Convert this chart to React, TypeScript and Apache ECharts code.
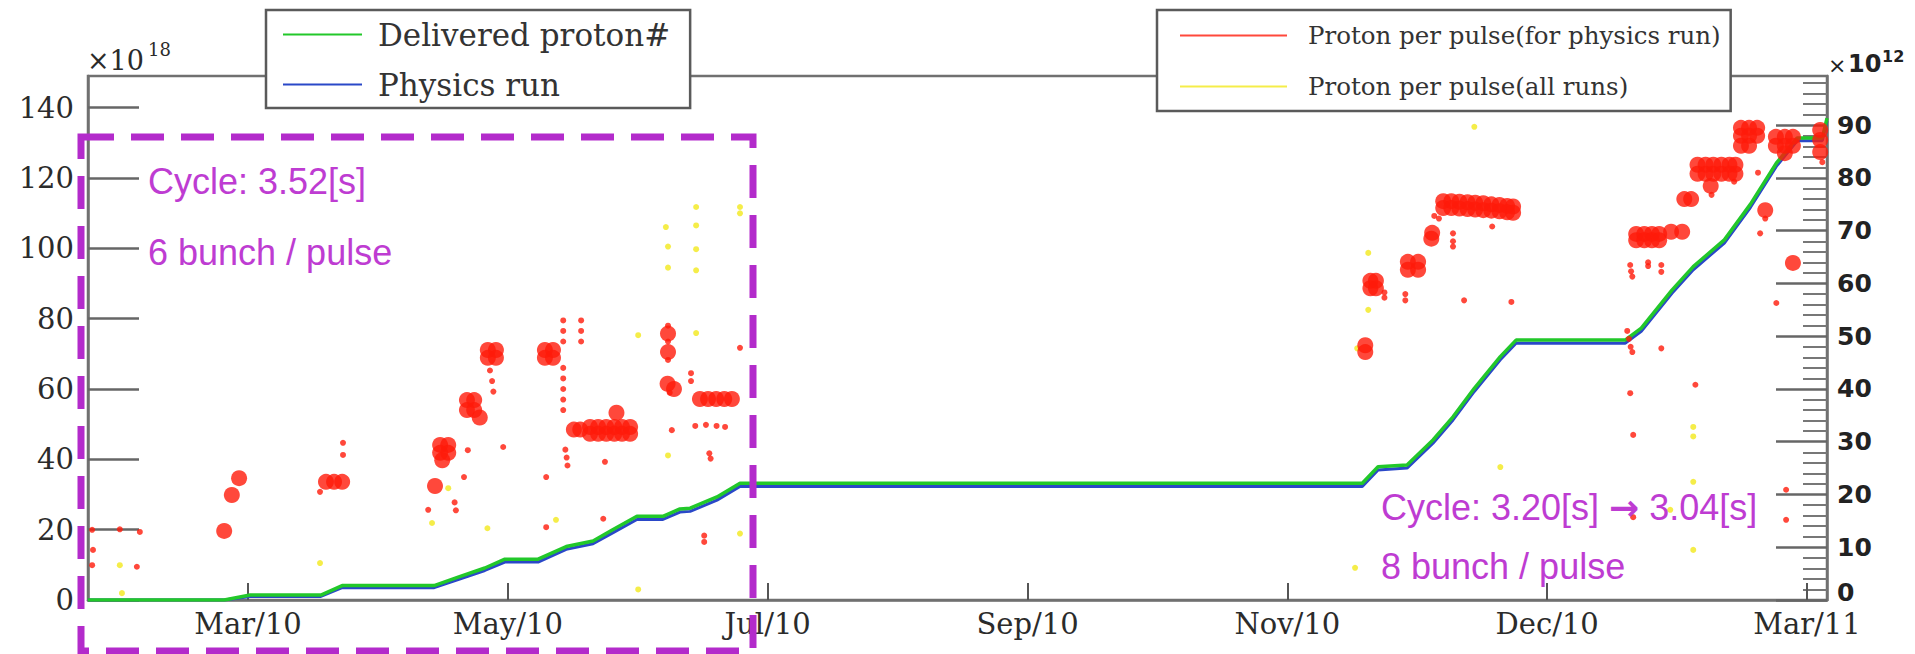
import React, { useEffect, useRef } from "react";
import * as echarts from "echarts";

// ---- axis ticks / labels ----
const xTickDays = [59, 120, 181, 242, 303, 364, 425];
const xTickLabels = ["Mar/10", "May/10", "Jul/10", "Sep/10", "Nov/10", "Dec/10", "Mar/11"];
const leftTicks = [0, 20, 40, 60, 80, 100, 120, 140];
const rightMajorTicks = [0, 10, 20, 30, 40, 50, 60, 70, 80, 90];
const rightMinorTicks = [
  2, 4, 6, 8, 12, 14, 16, 18, 22, 24, 26, 28, 32, 34, 36, 38, 42, 44, 46, 48,
  52, 54, 56, 58, 62, 64, 66, 68, 72, 74, 76, 78, 82, 84, 86, 88, 92, 94, 96, 98,
];

// ---- cumulative delivered protons (x10^18), x = day of 2010 ----
const potDays = [
  21.4, 53.4, 59.5, 76.1, 81.1, 102.7, 108.5, 114.6, 119.3, 127.1, 133.7, 140.0,
  144.5, 150.3, 156.4, 160.4, 162.8, 169.1, 174.5, 320.6, 324.3, 331.1, 337.2,
  341.9, 346.9, 353.0, 356.7, 382.3, 386.1, 393.3, 398.3, 405.6, 411.7, 417.8,
  422.7, 428.6, 429.7,
];
const deliveredPOT = [
  0, 0, 1.4, 1.4, 4.1, 4.1, 6.6, 9.1, 11.6, 11.6, 15.2, 16.8, 19.9, 23.8, 23.8,
  25.9, 26.1, 29.3, 33.2, 33.2, 37.9, 38.4, 45.5, 52.1, 60.2, 69.2, 73.9, 73.9,
  77.3, 88.1, 94.8, 102.4, 112.5, 124.2, 131.4, 131.4, 137.0,
];
const physicsPOT = [
  0, 0, 1.0, 1.0, 3.5, 3.5, 5.9, 8.4, 10.8, 10.8, 14.4, 16.0, 19.0, 22.9, 22.9,
  25.0, 25.2, 28.4, 32.3, 32.3, 37.0, 37.5, 44.6, 51.2, 59.3, 68.3, 73.0, 73.0,
  76.4, 87.2, 93.9, 101.5, 111.6, 123.3, 130.6, 130.6, 136.2,
];

// ---- protons per pulse (x10^12) ----
const ppDensePhysics = [
  [53.4, 13.1], [55.2, 19.9], [56.9, 23.1], [77.3, 22.4], [79.2, 22.4], [81.1, 22.4],
  [102.9, 21.6],
  [104.1, 29.4], [106.0, 29.4], [104.1, 27.9], [106.0, 27.9], [104.6, 26.5],
  [110.4, 37.9], [112.1, 37.9], [110.4, 36.0], [112.1, 36.0], [113.4, 34.6],
  [115.3, 47.4], [117.2, 47.4], [115.3, 45.9], [117.2, 45.9],
  [128.7, 47.4], [130.6, 47.4], [128.7, 45.9], [130.6, 45.9],
  [135.5, 32.3], [137.0, 32.3], [139.3, 32.8], [141.2, 32.8], [143.1, 32.8], [145.0, 32.8],
  [146.8, 32.8], [148.7, 32.8], [139.3, 31.5], [141.2, 31.5], [143.1, 31.5], [145.0, 31.5],
  [146.8, 31.5], [148.7, 31.5], [145.5, 35.5],
  [165.1, 38.1], [167.0, 38.1], [168.9, 38.1], [170.8, 38.1], [172.6, 38.1],
  [157.6, 50.5], [157.6, 47.0], [157.5, 41.0], [159.0, 40.0],
  [321.3, 48.3], [321.3, 47.0],
  [322.5, 60.5], [323.8, 60.5], [322.5, 59.1], [323.8, 59.1],
  [331.3, 64.1], [333.7, 64.1], [331.3, 62.6], [333.7, 62.6],
  [337.0, 69.6], [336.8, 68.5],
  [339.6, 75.6], [341.5, 75.6], [343.4, 75.5], [345.3, 75.4], [347.1, 75.3], [349.0, 75.2],
  [350.9, 75.0], [352.8, 74.9], [354.6, 74.7], [356.0, 74.6],
  [339.6, 74.3], [341.5, 74.3], [343.4, 74.2], [345.3, 74.1], [347.1, 74.0], [349.0, 73.9],
  [350.9, 73.8], [352.8, 73.7], [354.6, 73.5], [356.0, 73.4],
  [384.9, 69.4], [386.8, 69.4], [388.6, 69.4], [390.3, 69.4], [384.9, 68.2], [386.8, 68.2],
  [388.6, 68.2], [390.3, 68.2], [393.1, 69.8], [395.7, 69.8],
  [396.2, 76.0], [397.8, 76.0],
  [399.3, 82.5], [401.2, 82.5], [403.0, 82.5], [404.9, 82.5], [406.8, 82.5], [408.2, 82.5],
  [399.3, 80.8], [401.2, 80.8], [403.0, 80.8], [404.9, 80.8], [406.8, 80.8], [408.2, 80.8],
  [402.4, 78.5],
  [409.5, 89.5], [411.4, 89.5], [413.3, 89.5], [409.5, 88.0], [411.4, 88.0], [413.3, 88.0],
  [409.5, 86.1], [411.4, 86.1],
  [417.7, 87.8], [419.8, 87.8], [421.7, 87.8], [417.7, 86.1], [419.8, 86.1], [421.7, 86.1],
  [419.8, 84.7],
  [428.1, 89.1], [428.1, 87.2], [428.1, 84.9],
  [415.2, 73.9], [421.7, 63.9],
];
const ppSparsePhysics = [
  [22.4, 13.3], [28.9, 13.4], [33.6, 12.9], [22.6, 9.5], [32.9, 6.3], [22.4, 6.6],
  [75.9, 20.5], [81.3, 29.8], [81.3, 27.5],
  [101.3, 17.1], [107.5, 18.5], [107.8, 17.0], [109.7, 23.3], [110.6, 28.4],
  [115.8, 43.5], [116.3, 41.5], [116.6, 39.5], [118.9, 29.0],
  [133.0, 53.0], [133.0, 51.0], [133.0, 49.0], [133.0, 44.0], [133.0, 42.0], [133.0, 40.0],
  [133.0, 38.0], [133.0, 36.0], [133.5, 28.5], [133.8, 27.0], [134.0, 25.5],
  [137.2, 53.0], [137.2, 51.0], [137.2, 49.0],
  [129.0, 23.3], [129.0, 13.8], [142.8, 26.2], [142.4, 15.4],
  [157.6, 52.0], [157.6, 49.0], [157.6, 45.5], [158.0, 39.3], [163.0, 43.0], [163.0, 41.5],
  [158.5, 32.2],
  [164.0, 33.0], [166.5, 33.2], [169.0, 33.0], [171.0, 32.8], [167.3, 27.8], [167.6, 26.8],
  [166.1, 12.2], [166.1, 11.0], [174.5, 47.8],
  [325.8, 58.3], [325.8, 57.3], [330.7, 58.0], [330.7, 56.8],
  [341.9, 69.5], [341.9, 68.0], [341.9, 67.0], [337.5, 72.8], [338.6, 72.3], [344.5, 56.8],
  [355.6, 56.5], [351.1, 70.8],
  [383.5, 63.5], [383.7, 62.3], [384.0, 61.3], [387.7, 64.0], [387.7, 63.3], [390.8, 63.5],
  [390.8, 62.2],
  [382.8, 51.0], [383.2, 49.5], [383.6, 48.0], [384.0, 47.0], [390.8, 47.7], [383.5, 39.2],
  [398.8, 40.8], [384.2, 31.3], [384.2, 15.7], [420.1, 20.9], [420.1, 15.2],
  [402.6, 76.8], [415.2, 72.3], [417.8, 56.3], [414.0, 69.5], [413.5, 81.0], [407.9, 79.3],
  [428.6, 83.0],
];
const ppAllRuns = [
  [28.9, 6.6], [29.4, 1.3], [75.9, 7.0], [102.2, 14.6], [106.0, 21.2], [115.2, 13.6],
  [131.3, 15.2], [150.6, 50.2], [150.6, 2.0], [164.2, 50.6], [157.6, 27.4], [174.5, 12.6],
  [157.1, 70.7], [164.2, 74.5], [164.2, 71.0], [164.2, 66.5], [164.2, 62.5], [174.5, 74.5],
  [174.5, 73.3], [157.6, 67.0], [157.6, 63.0],
  [319.4, 47.7], [322.0, 65.8], [322.0, 55.0], [346.9, 89.7], [353.0, 25.2], [318.9, 6.1],
  [398.3, 32.8], [398.3, 31.0], [398.3, 22.4], [398.3, 9.5], [392.9, 17.1],
];

const SERIF = "DejaVu Serif";
const SANS = "DejaVu Sans";
const PURPLE_TEXT = "#BE3CD2";
const PURPLE_LINE = "#B32BCB";
const AXIS = "#707070";
const TXT = "#2b2b2b";

export default function App() {
  const ref = useRef<HTMLDivElement>(null);

  useEffect(() => {
    if (!ref.current) return;
    const chart = echarts.init(ref.current, null, { renderer: "svg" });
    const delivered = potDays.map((d, i) => [d, deliveredPOT[i]]);
    const physics = potDays.map((d, i) => [d, physicsPOT[i]]);

    const purpleStyle = {
      fontFamily: "Liberation Sans",
      fontSize: 36,
      fill: PURPLE_TEXT,
      verticalAlign: "middle",
      textVerticalAlign: "middle",
    };
    const rightLabelFont = { fontFamily: SANS, fontWeight: "bold", fontSize: 25, color: "#222" };

    const option: any = {
      animation: false,
      backgroundColor: "#ffffff",
      grid: {
        left: 88,
        right: 88,
        top: 76,
        bottom: 54,
        show: true,
        borderColor: AXIS,
        borderWidth: 2.5,
        backgroundColor: "transparent",
      },
      legend: [
        {
          left: 266,
          top: 10,
          orient: "vertical",
          data: ["Delivered proton#", "Physics run"],
          icon: "rect",
          itemWidth: 79,
          itemHeight: 2,
          itemGap: 19,
          padding: [9, 20, 8, 17],
          borderColor: "#5a5a5a",
          borderWidth: 2.5,
          backgroundColor: "#ffffff",
          selectedMode: false,
          textStyle: {
            fontFamily: SERIF,
            fontSize: 31,
            color: "#333",
            width: 315,
            padding: [0, 0, 0, 11],
          },
        },
        {
          left: 1157,
          top: 10,
          orient: "vertical",
          data: ["Proton per pulse(for physics run)", "Proton per pulse(all runs)"],
          icon: "rect",
          itemWidth: 107,
          itemHeight: 2,
          itemGap: 26,
          padding: [13, 10, 12, 23],
          borderColor: "#5a5a5a",
          borderWidth: 2.5,
          backgroundColor: "#ffffff",
          selectedMode: false,
          textStyle: {
            fontFamily: SERIF,
            fontSize: 24.5,
            color: "#333",
            width: 444,
            padding: [0, 0, 0, 16],
          },
        },
      ],
      xAxis: {
        type: "value",
        min: 21.43,
        max: 429.7,
        axisLine: { show: true, lineStyle: { color: AXIS, width: 2.5 } },
        axisTick: {
          show: true,
          inside: true,
          length: 17,
          customValues: xTickDays,
          lineStyle: { color: "#555", width: 2 },
        },
        axisLabel: {
          customValues: xTickDays,
          formatter: (v: number) => {
            const i = xTickDays.indexOf(Math.round(v));
            return i >= 0 ? xTickLabels[i] : "";
          },
          fontFamily: SERIF,
          fontSize: 29,
          color: TXT,
          margin: 9,
        },
        splitLine: { show: false },
      },
      yAxis: [
        {
          type: "value",
          position: "left",
          min: 0,
          max: 149,
          axisLine: { show: true, lineStyle: { color: AXIS, width: 2.5 } },
          axisTick: {
            show: true,
            inside: true,
            length: 51,
            customValues: leftTicks,
            lineStyle: { color: "#666", width: 2.5 },
          },
          axisLabel: {
            customValues: leftTicks,
            fontFamily: SERIF,
            fontSize: 29,
            color: TXT,
            margin: 14,
          },
          splitLine: { show: false },
        },
        {
          type: "value",
          position: "right",
          min: 0,
          max: 99.33,
          axisLine: { show: true, lineStyle: { color: AXIS, width: 2.5 } },
          axisTick: {
            show: true,
            inside: true,
            length: 51,
            customValues: rightMajorTicks,
            lineStyle: { color: "#666", width: 2.5 },
          },
          axisLabel: {
            customValues: rightMajorTicks,
            ...rightLabelFont,
            margin: 10,
            formatter: (v: number) => (v === 0 ? "{z|0}" : String(v)),
            rich: {
              z: { ...rightLabelFont, lineHeight: 25, padding: [0, 0, 16, 0] },
            },
          },
          splitLine: { show: false },
        },
        {
          type: "value",
          position: "right",
          min: 0,
          max: 99.33,
          axisLine: { show: false },
          axisTick: {
            show: true,
            inside: true,
            length: 24,
            customValues: rightMinorTicks,
            lineStyle: { color: "#777", width: 2 },
          },
          axisLabel: { show: false },
          splitLine: { show: false },
        },
      ],
      series: [
        {
          name: "Delivered proton#",
          type: "line",
          yAxisIndex: 0,
          data: delivered,
          symbol: "none",
          color: "#22c82a",
          lineStyle: { color: "#22c82a", width: 3.5 },
          z: 3,
        },
        {
          name: "Physics run",
          type: "line",
          yAxisIndex: 0,
          data: physics,
          symbol: "none",
          color: "#2a48c8",
          lineStyle: { color: "#2a48c8", width: 3 },
          z: 2,
        },
        {
          name: "Proton per pulse(all runs)",
          type: "scatter",
          yAxisIndex: 1,
          data: ppAllRuns,
          symbol: "circle",
          symbolSize: 6,
          color: "#f3e81c",
          itemStyle: { color: "#f3e81c" },
          z: 4,
        },
        {
          name: "Proton per pulse(for physics run)",
          type: "scatter",
          yAxisIndex: 1,
          data: ppSparsePhysics,
          symbol: "circle",
          symbolSize: 6,
          color: "#ff1a0a",
          itemStyle: { color: "#ff1a0a" },
          z: 5,
        },
        {
          name: "Proton per pulse(for physics run)",
          type: "scatter",
          yAxisIndex: 1,
          data: ppDensePhysics,
          symbol: "circle",
          symbolSize: 16,
          color: "#ff1a0a",
          itemStyle: { color: "#ff1a0a" },
          z: 5,
        },
      ],
      graphic: [
        {
          type: "text",
          x: 87,
          y: 60,
          z: 50,
          style: { text: "×10", fontFamily: SERIF, fontSize: 27, fill: TXT, verticalAlign: "middle", textVerticalAlign: "middle" },
        },
        {
          type: "text",
          x: 148,
          y: 49,
          z: 50,
          style: { text: "18", fontFamily: SERIF, fontSize: 18, fill: TXT, verticalAlign: "middle", textVerticalAlign: "middle" },
        },
        {
          type: "text",
          x: 1828,
          y: 65,
          z: 50,
          style: { text: "×", fontFamily: SANS, fontSize: 22, fill: "#222", verticalAlign: "middle", textVerticalAlign: "middle" },
        },
        {
          type: "text",
          x: 1848,
          y: 63.5,
          z: 50,
          style: { text: "10", fontFamily: SANS, fontWeight: "bold", fontSize: 24, fill: "#222", verticalAlign: "middle", textVerticalAlign: "middle" },
        },
        {
          type: "text",
          x: 1882,
          y: 56,
          z: 50,
          style: { text: "12", fontFamily: SANS, fontWeight: "bold", fontSize: 16, fill: "#222", verticalAlign: "middle", textVerticalAlign: "middle" },
        },
        {
          type: "rect",
          z: 60,
          silent: true,
          shape: { x: 81, y: 137, width: 672, height: 514 },
          style: { fill: "transparent", stroke: PURPLE_LINE, lineWidth: 7, lineDash: [33, 17] },
        },
        {
          type: "text",
          x: 148,
          y: 181,
          z: 61,
          style: { ...purpleStyle, text: "Cycle: 3.52[s]" },
        },
        {
          type: "text",
          x: 148,
          y: 252,
          z: 61,
          style: { ...purpleStyle, text: "6 bunch / pulse" },
        },
        {
          type: "text",
          x: 1381,
          y: 507,
          z: 61,
          style: {
            ...purpleStyle,
            text: "{a|Cycle: 3.20[s] }{b|→}{a| 3.04[s]}",
            rich: {
              a: { fontFamily: "Liberation Sans", fontSize: 36, fill: PURPLE_TEXT, color: PURPLE_TEXT },
              b: { fontFamily: SANS, fontWeight: "bold", fontSize: 36, fill: PURPLE_TEXT, color: PURPLE_TEXT },
            },
          },
        },
        {
          type: "text",
          x: 1381,
          y: 566,
          z: 61,
          style: { ...purpleStyle, text: "8 bunch / pulse" },
        },
      ],
    };

    chart.setOption(option);
    return () => {
      chart.dispose();
    };
  }, []);

  return (
    <div
      ref={ref}
      style={{ position: "fixed", left: 0, top: 0, width: 1915, height: 654, background: "#fff" }}
    />
  );
}
